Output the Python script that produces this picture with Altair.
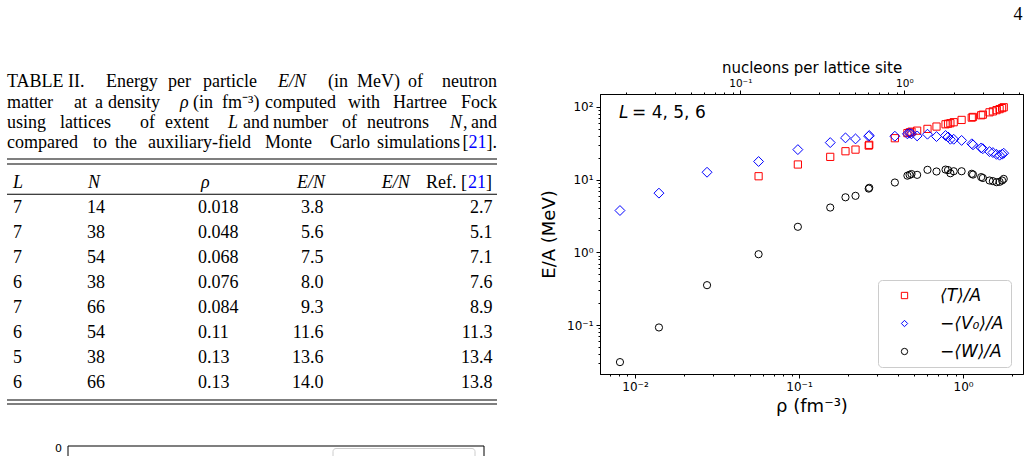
import altair as alt
import pandas as pd

# ---------------- data ----------------
RHO = [0.0081, 0.0140, 0.0275, 0.0567, 0.0984, 0.155, 0.192, 0.221, 0.266, 0.268,
       0.384, 0.458, 0.472, 0.485, 0.525, 0.607, 0.689, 0.782, 0.810, 0.837,
       0.877, 0.980, 1.13, 1.15, 1.29, 1.32, 1.45, 1.52, 1.60, 1.67, 1.73, 1.77]
T_OVER_A = [None, None, None, 11.1, 16.1, 20.5, 24.5, 25.8, 29.3, 30.0,
            37.0, 43.5, 44.5, 45.5, 47.0, 49.7, 53.5, 57.5, 58.5, 59.5,
            61.4, 66.0, 71.0, 72.5, 76.5, 78.0, 84.0, 86.5, 90.0, 93.0, 96.0, 98.6]
V0_OVER_A = [3.75, 6.5, 12.6, 17.7, 25.8, 32.2, 37.4, 36.2, 39.4, 40.3,
             39.4, 42.5, 43.5, 42.5, 39.8, 42.0, 39.0, 40.3, 38.5, 35.8,
             35.8, 34.5, 31.0, 30.0, 27.2, 26.5, 24.2, 23.5, 22.2, 21.6, 22.3, 23.0]
W_OVER_A = [0.0309, 0.0925, 0.353, 0.94, 2.24, 4.12, 5.7, 5.97, 7.5, 7.7,
            9.1, 11.3, 11.6, 11.9, 11.6, 13.6, 12.9, 13.7, 13.5, 12.2,
            13.0, 13.0, 12.0, 11.7, 10.8, 10.5, 9.7, 9.5, 9.2, 9.3, 9.7, 10.2]
SERIES = ["⟨T⟩/A", "−⟨V₀⟩/A", "−⟨W⟩/A"]
SITE_VOLUME = 2.28  # fm^3 per lattice site: nucleons per site = rho * a^3

TABLE_L = ["7", "7", "7", "6", "7", "6", "5", "6"]
TABLE_N = ["14", "38", "54", "38", "66", "54", "38", "66"]
TABLE_RHO = ["0.018", "0.048", "0.068", "0.076", "0.084", "0.11", "0.13", "0.13"]
TABLE_EN = ["3.8", "5.6", "7.5", "8.0", "9.3", "11.6", "13.6", "14.0"]
TABLE_REF = ["2.7", "5.1", "7.1", "7.6", "8.9", "11.3", "13.4", "13.8"]

# caption words: (text, style) ; style n = roman, i = italic, b = blue link
CAPTION = [
    [("TABLE", "n"), ("II.", "n"), ("Energy", "n"), ("per", "n"), ("particle", "n"),
     ("E/N", "i"), ("(in", "n"), ("MeV)", "n"), ("of", "n"), ("neutron", "n")],
    [("matter", "n"), ("at", "n"), ("a", "n"), ("density", "n"), ("ρ", "i"), ("(in", "n"),
     ("fm⁻³)", "n"), ("computed", "n"), ("with", "n"), ("Hartree", "n"), ("Fock", "n")],
    [("using", "n"), ("lattices", "n"), ("of", "n"), ("extent", "n"), ("L", "i"), ("and", "n"),
     ("number", "n"), ("of", "n"), ("neutrons", "n"), ("N", "i"), (",", "n"), ("and", "n")],
    [("compared", "n"), ("to", "n"), ("the", "n"), ("auxiliary-field", "n"), ("Monte", "n"),
     ("Carlo", "n"), ("simulations", "n"), ("[", "n"), ("21", "b"), ("].", "n")],
]

# ---------------- layout / style ----------------
PLOT_LEFT, PLOT_TOP, W, H = 600, 94, 423, 280
RHO_DOMAIN = [0.00612, 2.32]
E_DOMAIN = [0.0212, 150]
SANS = "DejaVu Sans"
SERIF = "Liberation Serif"
COLORS = ["#ff0000", "#0000ff", "#000000"]
SHAPES = ["square", "diamond", "circle"]
SIZES = [52, 98, 52]

# word anchors: positive = left edge, negative = right edge (page pixels)
CAPTION_X = [
    [7, 68, 106, 168, 203, 278, 328, 357, 408, -497],
    [7, 74, 95, 108, 180, 193, 222, 265, 348, 393, -497],
    [7, 60, 140, 165, 228, 243, 273, 342, 367, 450, 463, -497],
    [7, 93, 115, 148, 265, 330, 377, -468.5, -486.5, -497],
]
CAPTION_Y0, CAPTION_STEP = 87.3, 20.3
ROW_Y0, ROW_STEP = 212.6, 25.0
HEADER_Y = 187.6
COL_LEFT = [13, 87, 198]
COL_RIGHT = [323.5, 492.5]

# ---------------- scatter data ----------------
rows = []
for name, vals in zip(SERIES, [T_OVER_A, V0_OVER_A, W_OVER_A]):
    for r, v in zip(RHO, vals):
        if v is not None:
            rows.append({"rho": r, "E": v, "series": name})
df = pd.DataFrame(rows)

SUP = {-3: "⁻³", -2: "⁻²", -1: "⁻¹", 0: "⁰", 1: "¹", 2: "²"}
EXP = {0.001: -3, 0.01: -2, 0.1: -1, 1.0: 0, 10.0: 1, 100.0: 2}


def log_ticks(lo, hi):
    vals = []
    for e in range(-4, 4):
        for k in range(1, 10):
            v = round(k * 10.0 ** e, 10)
            if lo <= v <= hi:
                vals.append(v)
    return vals


def majors(vals):
    return [v for v in vals if v in EXP]


def label_expr(vals):
    expr = "''"
    for v in majors(vals):
        expr = f"datum.value == {v} ? '10{SUP[EXP[v]]}' : ({expr})"
    return expr


def tick_cond(vals, big, small):
    arr = ",".join(str(v) for v in majors(vals))
    return {"condition": {"test": f"indexof([{arr}], datum.value) >= 0", "value": big}, "value": small}


axis_common = dict(grid=False, domainColor="black", tickColor="black", labelColor="black",
                   titleColor="black", labelFont=SANS, titleFont=SANS, titleFontWeight="normal",
                   labelOverlap=False, labelFlush=False, labelBound=False, domainWidth=1, tickWidth=1)

xt = log_ticks(*RHO_DOMAIN)
yt = log_ticks(*E_DOMAIN)
top_domain = [RHO_DOMAIN[0] * SITE_VOLUME, RHO_DOMAIN[1] * SITE_VOLUME]
tt = log_ticks(*top_domain)

legend = alt.Legend(title=None, orient="none", legendX=278, legendY=186, direction="vertical",
                    fillColor="white", strokeColor="#cccccc", cornerRadius=4, padding=7,
                    labelFont=SANS, labelFontSize=17, labelFontStyle="italic", labelColor="black",
                    symbolSize=40, symbolStrokeWidth=1, symbolOffset=11, labelOffset=27,
                    rowPadding=10)

x_enc = alt.X("rho:Q", title="ρ (fm⁻³)",
              scale=alt.Scale(type="log", domain=RHO_DOMAIN, nice=False),
              axis=alt.Axis(values=xt, labelExpr=label_expr(xt), tickSize=tick_cond(xt, 4, 2),
                            labelFontSize=12, titleFontSize=18, labelPadding=3, titlePadding=5,
                            **axis_common))
y_enc = alt.Y("E:Q", title="E/A (MeV)",
              scale=alt.Scale(type="log", domain=E_DOMAIN, nice=False),
              axis=alt.Axis(values=yt, labelExpr=label_expr(yt), tickSize=tick_cond(yt, 4, 2),
                            labelFontSize=12, titleFontSize=18, labelPadding=3, titlePadding=8,
                            **axis_common))
color_enc = alt.Color("series:N", scale=alt.Scale(domain=SERIES, range=COLORS), legend=legend)
shape_enc = alt.Shape("series:N", scale=alt.Scale(domain=SERIES, range=SHAPES), legend=legend)

point_layers = [
    alt.Chart(df).transform_filter(alt.datum.series == name)
    .mark_point(filled=False, strokeWidth=1, opacity=1, size=sz)
    .encode(x=x_enc, y=y_enc, color=color_enc, shape=shape_enc)
    for name, sz in zip(SERIES, SIZES)
]

annot_L = alt.Chart(pd.DataFrame({"t": ["L"]})).mark_text(
    align="left", baseline="alphabetic", font=SANS, fontSize=17, fontStyle="italic", color="black"
).encode(x=alt.value(19), y=alt.value(24.3), text="t:N")
annot_rest = alt.Chart(pd.DataFrame({"t": ["= 4, 5, 6"]})).mark_text(
    align="left", baseline="alphabetic", font=SANS, fontSize=17, color="black"
).encode(x=alt.value(32), y=alt.value(24.3), text="t:N")

scatter_layer = alt.layer(*point_layers, annot_L, annot_rest)

top_axis = alt.Chart(df).transform_calculate(nps=f"datum.rho * {SITE_VOLUME}").mark_point(
    opacity=0).encode(
    x=alt.X("nps:Q", title="nucleons per lattice site",
            scale=alt.Scale(type="log", domain=top_domain, nice=False),
            axis=alt.Axis(orient="top", values=tt, labelExpr=label_expr(tt),
                          tickSize=tick_cond(tt, 4, 2), labelFontSize=10.5, titleFontSize=15,
                          labelPadding=2, titlePadding=3, **axis_common)),
)

# ---------------- table (page text) ----------------
px_x = alt.Scale(domain=[PLOT_LEFT, PLOT_LEFT + W], nice=False, zero=False)
px_y = alt.Scale(domain=[PLOT_TOP, PLOT_TOP + H], nice=False, zero=False, reverse=True)


def text_layer(items, align="left", style="normal", color="black", font=SERIF, size=18):
    return alt.Chart(pd.DataFrame(items)).mark_text(
        align=align, baseline="alphabetic", font=font, fontSize=size, fontStyle=style, color=color
    ).encode(x=alt.X("x:Q", scale=px_x, axis=None),
             y=alt.Y("y:Q", scale=px_y, axis=None),
             text="text:N")


groups = {}
for li, (words, xs) in enumerate(zip(CAPTION, CAPTION_X)):
    for (w, s), x in zip(words, xs):
        key = (s, "right" if x < 0 else "left")
        groups.setdefault(key, []).append({"x": abs(x), "y": CAPTION_Y0 + li * CAPTION_STEP, "text": w})

style_map = {"n": ("normal", "black"), "i": ("italic", "black"), "b": ("normal", "#0000ff")}
caption_layers = [text_layer(items, align=al, style=style_map[s][0], color=style_map[s][1])
                  for (s, al), items in groups.items()]

cells_left, cells_right = [], []
for i in range(len(TABLE_L)):
    y = ROW_Y0 + i * ROW_STEP
    for x, col in zip(COL_LEFT, [TABLE_L, TABLE_N, TABLE_RHO]):
        cells_left.append({"x": x, "y": y, "text": col[i]})
    for x, col in zip(COL_RIGHT, [TABLE_EN, TABLE_REF]):
        cells_right.append({"x": x, "y": y, "text": col[i]})

head_i_left = [{"x": 13, "y": HEADER_Y, "text": "L"}, {"x": 88, "y": HEADER_Y, "text": "N"},
               {"x": 201, "y": HEADER_Y, "text": "ρ"}, {"x": 381.7, "y": HEADER_Y, "text": "E/N"}]
head_i_right = [{"x": 325, "y": HEADER_Y, "text": "E/N"}]
head_n_right = [{"x": 467, "y": HEADER_Y, "text": "Ref. ["}, {"x": 492, "y": HEADER_Y, "text": "]"}]
head_b_right = [{"x": 486, "y": HEADER_Y, "text": "21"}]

rules = pd.DataFrame({"x": [7, 7, 7, 7, 7, 68], "x2": [497, 497, 497, 497, 497, 484],
                      "y": [159, 164, 194.3, 400, 404, 446]})
vrules = pd.DataFrame({"x": [68, 484], "y": [446, 446], "y2": [460, 460]})
boxes = pd.DataFrame({"x": [333], "x2": [475], "y": [448.5], "y2": [480]})

rule_layer = alt.Chart(rules).mark_rule(color="black", strokeWidth=1.1).encode(
    x=alt.X("x:Q", scale=px_x, axis=None), x2="x2:Q",
    y=alt.Y("y:Q", scale=px_y, axis=None))
vrule_layer = alt.Chart(vrules).mark_rule(color="black", strokeWidth=1).encode(
    x=alt.X("x:Q", scale=px_x, axis=None),
    y=alt.Y("y:Q", scale=px_y, axis=None), y2="y2:Q")
box_layer = alt.Chart(boxes).mark_rect(fill="white", stroke="#cccccc", strokeWidth=1,
                                       cornerRadius=3).encode(
    x=alt.X("x:Q", scale=px_x, axis=None), x2="x2:Q",
    y=alt.Y("y:Q", scale=px_y, axis=None), y2="y2:Q")

table_layer = alt.layer(
    *caption_layers,
    text_layer(cells_left), text_layer(cells_right, align="right"),
    text_layer(head_i_left, style="italic"), text_layer(head_i_right, align="right", style="italic"),
    text_layer(head_n_right, align="right"), text_layer(head_b_right, align="right", color="#0000ff"),
    text_layer([{"x": 1018, "y": 20, "text": "4"}], align="center"),
    text_layer([{"x": 62, "y": 452, "text": "0"}], align="right", font=SANS, size=11),
    rule_layer, vrule_layer, box_layer,
)

chart = alt.layer(scatter_layer, top_axis, table_layer).resolve_scale(
    x="independent", y="independent"
).properties(
    width=W, height=H,
    padding={"left": PLOT_LEFT, "top": PLOT_TOP, "right": 1030 - PLOT_LEFT - W, "bottom": 456 - PLOT_TOP - H},
    autosize=alt.AutoSizeParams(type="none"),
    background="white",
).configure_view(stroke="black", strokeWidth=1)

chart.save("out.html", embed_options={"renderer": "svg", "actions": False})
